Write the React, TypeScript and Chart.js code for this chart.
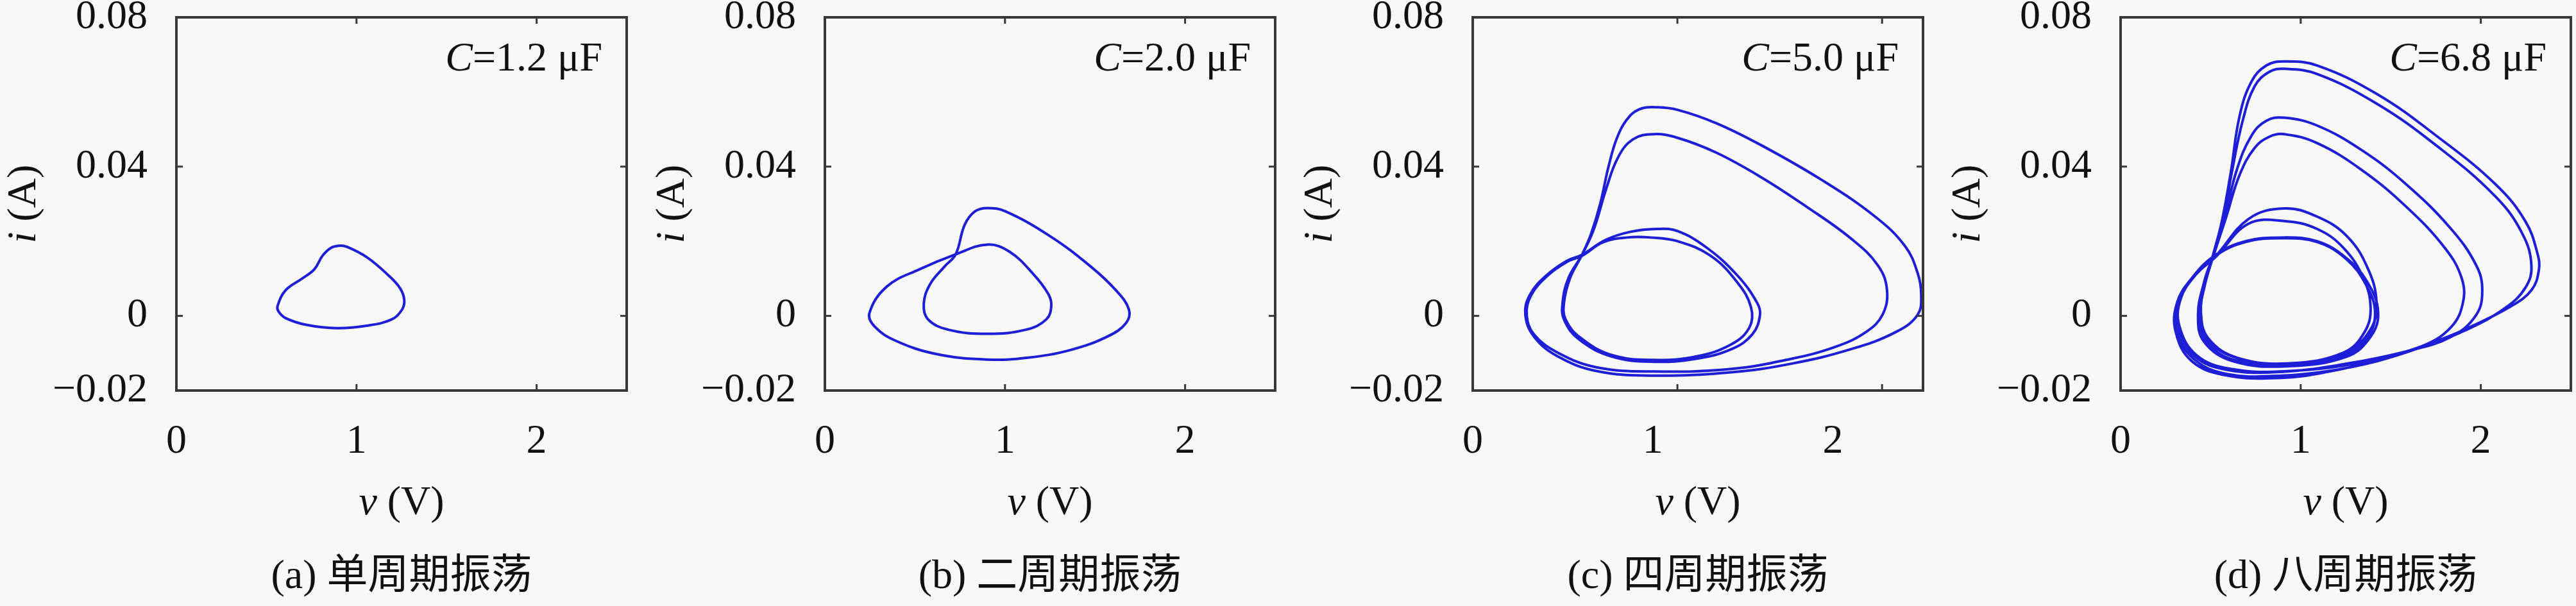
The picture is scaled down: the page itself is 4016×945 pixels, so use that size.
import React, { useEffect, useRef } from 'react';
import { Chart, registerables } from 'chart.js';

Chart.register(...registerables);

// ---------- axes ----------
const xMin = 0;
const xMax = 2.5;
const yMin = -0.02;
const yMax = 0.08;
const xTicks = [0, 1, 2];
const xTickLabels = ['0', '1', '2'];
const yTicks = [-0.02, 0, 0.04, 0.08];
const yTickLabels = ['\u22120.02', '0', '0.04', '0.08'];
// x-range followed by the small tick marks of each panel (panel c's marks are drawn on a 0–2.2 span)
const tickMarkSpan = [2.5, 2.5, 2.2, 2.5];

const captions = ['(a) 单周期振荡', '(b) 二周期振荡', '(c) 四周期振荡', '(d) 八周期振荡'];
const capacitance = ['1.2', '2.0', '5.0', '6.8'];

// ---------- data: (v [V], i [A]) ----------
// (a) C = 1.2 μF, period-1
const a_loop: [number, number][] = [
  [0.562, 0.0027], [0.607, 0.0069], [0.698, 0.0100], [0.766, 0.0125], [0.811, 0.0161],
  [0.857, 0.0182], [0.902, 0.0188], [0.947, 0.0185], [1.061, 0.0156], [1.174, 0.0110],
  [1.242, 0.0074], [1.265, 0.0043], [1.253, 0.0017], [1.197, -0.0009], [1.061, -0.0026],
  [0.891, -0.0033], [0.721, -0.0024], [0.607, -0.0006], [0.567, 0.0012], [0.562, 0.0027],
];

// (b) C = 2.0 μF, period-2
const b_inner: [number, number][] = [
  [0.247, 0.0007], [0.345, 0.0079], [0.526, 0.0125], [0.726, 0.0165], [0.901, 0.0191],
  [1.025, 0.0172], [1.161, 0.0110], [1.241, 0.0058], [1.257, 0.0027], [1.230, -0.0009],
  [1.116, -0.0037], [0.901, -0.0048], [0.685, -0.0037], [0.572, -0.0009], [0.549, 0.0032],
  [0.583, 0.0084], [0.662, 0.0131], [0.726, 0.0165],
];
const b_outer: [number, number][] = [
  [0.776, 0.0244], [0.833, 0.0280], [0.901, 0.0289], [1.003, 0.0280], [1.252, 0.0213],
  [1.479, 0.0131], [1.615, 0.0069], [1.688, 0.0017], [1.672, -0.0019], [1.570, -0.0055],
  [1.366, -0.0091], [1.127, -0.0112], [0.901, -0.0117], [0.617, -0.0102], [0.390, -0.0066],
  [0.277, -0.0029], [0.247, 0.0007],
];

// (c) C = 5.0 μF, period-4
const c_big1: [number, number][] = [
  [0.607, 0.0164], [0.657, 0.0220], [0.707, 0.0299], [0.756, 0.0404], [0.806, 0.0483],
  [0.873, 0.0536], [0.939, 0.0556], [1.022, 0.0559], [1.138, 0.0552], [1.354, 0.0516],
  [1.603, 0.0457], [1.935, 0.0365], [2.234, 0.0266], [2.400, 0.0187], [2.470, 0.0115],
  [2.490, 0.0056], [2.470, 0.0003], [2.350, -0.0043], [2.101, -0.0089], [1.769, -0.0128],
  [1.437, -0.0151], [1.005, -0.0160], [0.690, -0.0148], [0.474, -0.0109], [0.341, -0.0056],
  [0.292, 0.0003], [0.317, 0.0056], [0.408, 0.0108], [0.524, 0.0148], [0.607, 0.0164],
];
const c_small1: [number, number][] = [
  [0.740, 0.0204], [0.873, 0.0225], [1.022, 0.0233], [1.138, 0.0227], [1.304, 0.0181],
  [1.470, 0.0108], [1.578, 0.0036], [1.595, 0.0003], [1.553, -0.0049], [1.437, -0.0089],
  [1.238, -0.0115], [1.005, -0.0123], [0.773, -0.0109], [0.590, -0.0063], [0.507, -0.0010],
  [0.499, 0.0036], [0.532, 0.0102], [0.607, 0.0164],
];
const c_big2: [number, number][] = [
  [0.673, 0.0233], [0.740, 0.0339], [0.806, 0.0424], [0.889, 0.0473], [1.005, 0.0487],
  [1.138, 0.0477], [1.354, 0.0437], [1.603, 0.0371], [1.852, 0.0293], [2.101, 0.0207],
  [2.250, 0.0135], [2.300, 0.0069], [2.275, 0.0003], [2.184, -0.0043], [2.018, -0.0082],
  [1.769, -0.0115], [1.437, -0.0142], [1.005, -0.0149], [0.690, -0.0138], [0.474, -0.0099],
  [0.341, -0.0050], [0.300, 0.0003], [0.325, 0.0056], [0.416, 0.0108], [0.524, 0.0145],
  [0.607, 0.0161], [0.723, 0.0197], [0.856, 0.0210], [0.989, 0.0210],
];
const c_small2: [number, number][] = [
  [1.138, 0.0200], [1.321, 0.0161], [1.470, 0.0089], [1.545, 0.0023], [1.537, -0.0030],
  [1.437, -0.0076], [1.238, -0.0109], [1.005, -0.0118], [0.773, -0.0105], [0.599, -0.0059],
  [0.516, -0.0010], [0.507, 0.0036], [0.541, 0.0102], [0.607, 0.0164],
];

// (d) C = 6.8 μF, period-8
const d_big1: [number, number][] = [
  [0.512, 0.0161], [0.562, 0.0253], [0.612, 0.0385], [0.661, 0.0536], [0.727, 0.0628],
  [0.810, 0.0671], [0.909, 0.0682], [1.091, 0.0671], [1.421, 0.0595], [1.752, 0.0483],
  [2.083, 0.0352], [2.248, 0.0253], [2.314, 0.0168], [2.322, 0.0122], [2.281, 0.0069],
  [2.165, 0.0025], [1.917, -0.0035], [1.694, -0.0078], [1.420, -0.0120], [1.150, -0.0150],
  [0.893, -0.0166], [0.595, -0.0160], [0.397, -0.0122], [0.306, -0.0043], [0.314, 0.0036],
  [0.397, 0.0102], [0.529, 0.0164], [0.694, 0.0200], [0.893, 0.0210],
];
const d_small1: [number, number][] = [
  [1.091, 0.0200], [1.256, 0.0154], [1.372, 0.0089], [1.430, 0.0010], [1.388, -0.0056],
  [1.256, -0.0109], [0.926, -0.0135], [0.628, -0.0122], [0.463, -0.0069], [0.430, 0.0003],
  [0.463, 0.0089], [0.512, 0.0161],
];
const d_med1: [number, number][] = [
  [0.579, 0.0266], [0.645, 0.0391], [0.727, 0.0483], [0.810, 0.0523], [0.909, 0.0531],
  [1.091, 0.0510], [1.339, 0.0444], [1.587, 0.0352], [1.835, 0.0233], [1.975, 0.0135],
  [2.008, 0.0069], [1.975, 0.0003], [1.835, -0.0056], [1.587, -0.0095], [1.256, -0.0128],
  [0.893, -0.0150], [0.595, -0.0145], [0.413, -0.0109], [0.322, -0.0030], [0.331, 0.0043],
  [0.413, 0.0108], [0.529, 0.0161], [0.711, 0.0260], [0.909, 0.0288],
];
const d_small2: [number, number][] = [
  [1.091, 0.0266], [1.256, 0.0214], [1.372, 0.0128], [1.421, 0.0036], [1.388, -0.0036],
  [1.256, -0.0095], [0.959, -0.0128], [0.661, -0.0115], [0.479, -0.0063], [0.438, 0.0010],
  [0.463, 0.0089], [0.512, 0.0161],
];
const d_big2: [number, number][] = [
  [0.570, 0.0260], [0.620, 0.0391], [0.678, 0.0523], [0.744, 0.0615], [0.826, 0.0654],
  [0.909, 0.0662], [1.091, 0.0648], [1.421, 0.0569], [1.752, 0.0457], [2.083, 0.0319],
  [2.231, 0.0220], [2.281, 0.0135], [2.248, 0.0076], [2.132, 0.0020], [1.917, -0.0038],
  [1.694, -0.0080], [1.420, -0.0122], [1.150, -0.0148], [0.893, -0.0160], [0.595, -0.0156],
  [0.405, -0.0115], [0.311, -0.0036], [0.322, 0.0040], [0.405, 0.0105], [0.529, 0.0162],
  [0.694, 0.0198], [0.893, 0.0208],
];
const d_small3: [number, number][] = [
  [1.091, 0.0198], [1.256, 0.0151], [1.364, 0.0082], [1.413, 0.0010], [1.372, -0.0056],
  [1.240, -0.0105], [0.926, -0.0131], [0.628, -0.0118], [0.471, -0.0065], [0.438, 0.0003],
  [0.471, 0.0089], [0.516, 0.0161],
];
const d_med2: [number, number][] = [
  [0.587, 0.0266], [0.661, 0.0378], [0.744, 0.0450], [0.826, 0.0480], [0.909, 0.0487],
  [1.091, 0.0463], [1.339, 0.0391], [1.587, 0.0292], [1.802, 0.0181], [1.893, 0.0102],
  [1.901, 0.0036], [1.835, -0.0030], [1.669, -0.0082], [1.339, -0.0125], [0.926, -0.0148],
  [0.612, -0.0142], [0.421, -0.0105], [0.326, -0.0026], [0.334, 0.0046], [0.417, 0.0110],
  [0.532, 0.0160], [0.711, 0.0247], [0.909, 0.0254],
];
const d_small4: [number, number][] = [
  [1.091, 0.0233], [1.240, 0.0181], [1.347, 0.0102], [1.388, 0.0023], [1.355, -0.0043],
  [1.240, -0.0098], [0.942, -0.0127], [0.653, -0.0113], [0.488, -0.0061], [0.446, 0.0010],
  [0.471, 0.0089], [0.512, 0.0161],
];

const panelPaths: [number, number][][][] = [
  [a_loop],
  [b_inner, b_outer],
  [c_big1, c_small1, c_big2, c_small2],
  [d_big1, d_small1, d_med1, d_small2, d_big2, d_small3, d_med2, d_small4],
];

// ---------- style ----------
const SERIF = '"Liberation Serif", "DejaVu Serif", serif';
const CAPTION_FONT = '"Liberation Serif", "Noto Sans CJK SC", sans-serif';
const FONT_SIZE = 64;
const TEXT_COLOR = '#111111';
const LINE_COLOR = '#1e1ed6';
const HIDDEN = 'rgba(0,0,0,0)';
const FRAME_COLOR = '#383838';
const BG = '#f8f8f8';
const CANVAS_W = 985;
const CANVAS_H = 945;
const PANEL_LEFT = [0, 1011, 2021, 3031];
const AREA_LEFT = 275;
const AREA_RIGHT = 977;
const AREA_TOP = 27;
const AREA_BOTTOM = 609;
const XAXIS_H = 130;

type Run = { t: string; italic?: boolean; font?: string };

function drawRuns(ctx: CanvasRenderingContext2D, runs: Run[], x: number, y: number, align: 'center' | 'right') {
  const fonts = runs.map((r) => `${r.italic ? 'italic ' : ''}${FONT_SIZE}px ${r.font || SERIF}`);
  const widths = runs.map((r, i) => {
    ctx.font = fonts[i];
    return ctx.measureText(r.t).width;
  });
  const total = widths.reduce((s, w) => s + w, 0);
  let cx = align === 'center' ? x - total / 2 : x - total;
  ctx.textAlign = 'left';
  ctx.textBaseline = 'alphabetic';
  runs.forEach((r, i) => {
    ctx.font = fonts[i];
    ctx.fillText(r.t, cx, y);
    cx += widths[i];
  });
}

function Panel({ index }: { index: number }) {
  const ref = useRef<HTMLCanvasElement | null>(null);

  useEffect(() => {
    const canvas = ref.current;
    if (!canvas) return;
    // closed orbit: last point equals first; pad one point on each side so the spline closes smoothly
    const closed = panelPaths[index].flat().map(([v, i]) => ({ x: v, y: i }));
    const n = closed.length;
    const points = [closed[n - 2], ...closed, closed[1]];
    const lastIdx = points.length - 1;

    const framePlugin = {
      id: 'frame',
      afterDatasetsDraw(chart: any) {
        const { ctx, chartArea: ca } = chart;
        const xs = chart.scales.x;
        const ys = chart.scales.y;
        ctx.save();
        ctx.strokeStyle = FRAME_COLOR;
        ctx.lineWidth = 4;
        ctx.strokeRect(ca.left, ca.top, ca.right - ca.left, ca.bottom - ca.top);
        ctx.lineWidth = 3;
        const L = 10;
        const seg = (x1: number, y1: number, x2: number, y2: number) => {
          ctx.beginPath();
          ctx.moveTo(x1, y1);
          ctx.lineTo(x2, y2);
          ctx.stroke();
        };
        for (const v of xTicks) {
          if (v <= xMin) continue;
          const px = xs.getPixelForValue((v * xMax) / tickMarkSpan[index]);
          if (px >= ca.right - 1) continue;
          seg(px, ca.bottom, px, ca.bottom - L);
          seg(px, ca.top, px, ca.top + L);
        }
        for (const v of yTicks) {
          if (v <= yMin || v >= yMax) continue;
          const py = ys.getPixelForValue(v);
          seg(ca.left, py, ca.left + L, py);
          seg(ca.right, py, ca.right - L, py);
        }
        ctx.fillStyle = TEXT_COLOR;
        const cx = (ca.left + ca.right) / 2;
        drawRuns(ctx, [{ t: 'C', italic: true }, { t: '=' + capacitance[index] + ' \u03bcF' }], ca.right - 38, ca.top + 83, 'right');
        drawRuns(ctx, [{ t: 'v', italic: true }, { t: ' (V)' }], cx, 802, 'center');
        ctx.save();
        ctx.translate(55, (ca.top + ca.bottom) / 2);
        ctx.rotate(-Math.PI / 2);
        drawRuns(ctx, [{ t: 'i', italic: true }, { t: ' (A)' }], 0, 0, 'center');
        ctx.restore();
        drawRuns(ctx, [{ t: captions[index], font: CAPTION_FONT }], cx, 917, 'center');
        ctx.restore();
      },
    };

    const chart = new Chart(canvas, {
      type: 'scatter',
      data: {
        datasets: [
          {
            data: points,
            showLine: true,
            borderColor: LINE_COLOR,
            borderWidth: 4,
            pointRadius: 0,
            tension: 0.4,
            fill: false,
            segment: {
              borderColor: (c: any) => (c.p0DataIndex === 0 || c.p1DataIndex === lastIdx ? HIDDEN : LINE_COLOR),
            },
          } as any,
        ],
      },
      options: {
        animation: false,
        responsive: false,
        maintainAspectRatio: false,
        devicePixelRatio: 1,
        layout: {
          padding: {
            left: 0,
            right: CANVAS_W - AREA_RIGHT,
            top: AREA_TOP,
            bottom: CANVAS_H - AREA_BOTTOM - XAXIS_H,
          },
        },
        plugins: {
          legend: { display: false },
          tooltip: { enabled: false },
        },
        scales: {
          x: {
            type: 'linear',
            min: xMin,
            max: xMax,
            afterBuildTicks: (s: any) => {
              s.ticks = xTicks.map((v) => ({ value: v }));
            },
            afterFit: (s: any) => {
              s.height = XAXIS_H;
              s.paddingLeft = 0;
              s.paddingRight = 0;
            },
            grid: { display: false, drawTicks: false },
            border: { display: false },
            ticks: {
              padding: 42,
              color: TEXT_COLOR,
              font: { family: SERIF, size: FONT_SIZE },
              maxRotation: 0,
              autoSkip: false,
              callback: (v: any) => xTickLabels[xTicks.indexOf(Number(v))] ?? '',
            },
          },
          y: {
            type: 'linear',
            min: yMin,
            max: yMax,
            afterBuildTicks: (s: any) => {
              s.ticks = yTicks.map((v) => ({ value: v }));
            },
            afterFit: (s: any) => {
              s.width = AREA_LEFT;
              s.paddingTop = 0;
              s.paddingBottom = 0;
            },
            grid: { display: false, drawTicks: false },
            border: { display: false },
            ticks: {
              padding: 45,
              color: TEXT_COLOR,
              font: { family: SERIF, size: FONT_SIZE },
              autoSkip: false,
              callback: (v: any) => {
                const k = yTicks.findIndex((t) => Math.abs(t - Number(v)) < 1e-9);
                return k >= 0 ? yTickLabels[k] : '';
              },
            },
          },
        },
      } as any,
      plugins: [framePlugin],
    });

    return () => chart.destroy();
  }, [index]);

  return (
    <canvas
      ref={ref}
      width={CANVAS_W}
      height={CANVAS_H}
      style={{ position: 'absolute', left: PANEL_LEFT[index], top: 0, width: CANVAS_W, height: CANVAS_H }}
    />
  );
}

export default function App() {
  return (
    <div
      style={{
        position: 'absolute',
        left: 0,
        top: 0,
        width: 4016,
        height: 945,
        background: BG,
        overflow: 'hidden',
      }}
    >
      {[0, 1, 2, 3].map((i) => (
        <Panel key={i} index={i} />
      ))}
    </div>
  );
}
